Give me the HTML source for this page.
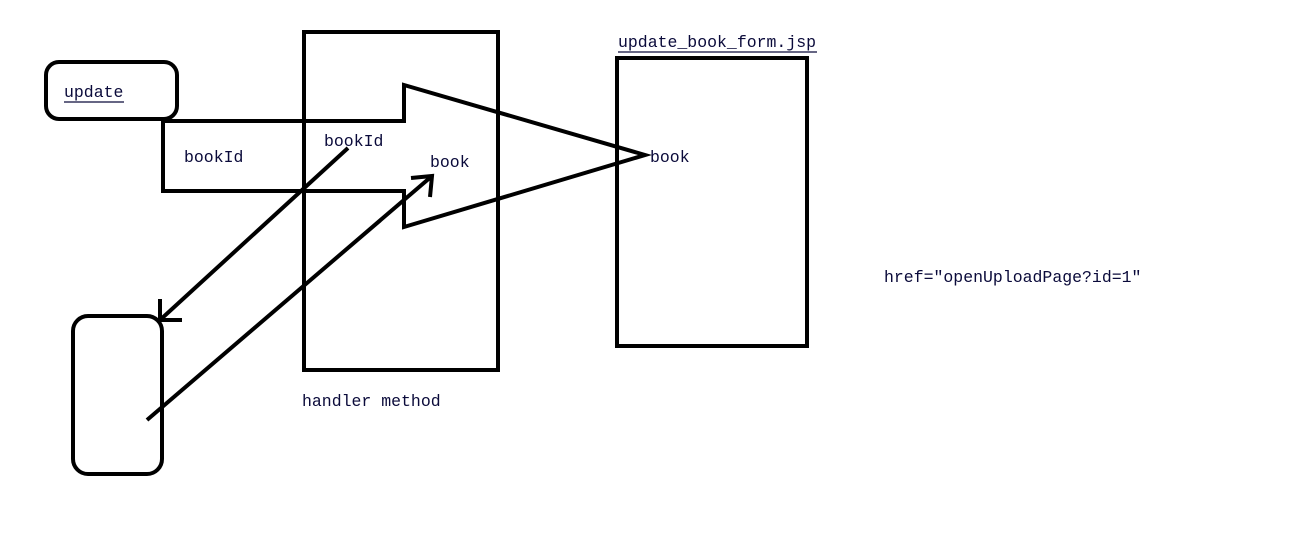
<!DOCTYPE html>
<html><head><meta charset="utf-8"><style>
html,body{margin:0;padding:0;background:#fff;}
svg{display:block;}
text{font-family:"Liberation Mono",monospace;font-size:16.5px;fill:#0a0a3a;}
</style></head><body>
<svg width="1290" height="546" viewBox="0 0 1290 546">
<g fill="none" stroke="#000" stroke-width="4" stroke-linejoin="miter">
  <polygon points="163,121 404,121 404,85 645,155 404,227 404,191 163,191"/>
  <rect x="46" y="62" width="131" height="57" rx="13" fill="#fff"/>
  <rect x="304" y="32" width="194" height="338"/>
  <rect x="617" y="58" width="190" height="288"/>
  <rect x="73" y="316" width="89" height="158" rx="15"/>
  <line x1="348" y1="148" x2="160" y2="320"/>
  <polyline points="160,299 160,320 182,320"/>
  <line x1="147" y1="420" x2="432" y2="176"/>
  <polyline points="411,178 432,176 430,197"/>
</g>
<g stroke="#0a0a3a" stroke-width="1.3">
  <line x1="64" y1="102" x2="124" y2="102"/>
  <line x1="618" y1="52" x2="817" y2="52"/>
</g>
<text x="64" y="97">update</text>
<text x="184" y="162">bookId</text>
<text x="324" y="146">bookId</text>
<text x="430" y="167">book</text>
<text x="650" y="162">book</text>
<text x="618" y="47">update_book_form.jsp</text>
<text x="302" y="406">handler method</text>
<text x="884" y="282">href="openUploadPage?id=1"</text>
</svg>
</body></html>
